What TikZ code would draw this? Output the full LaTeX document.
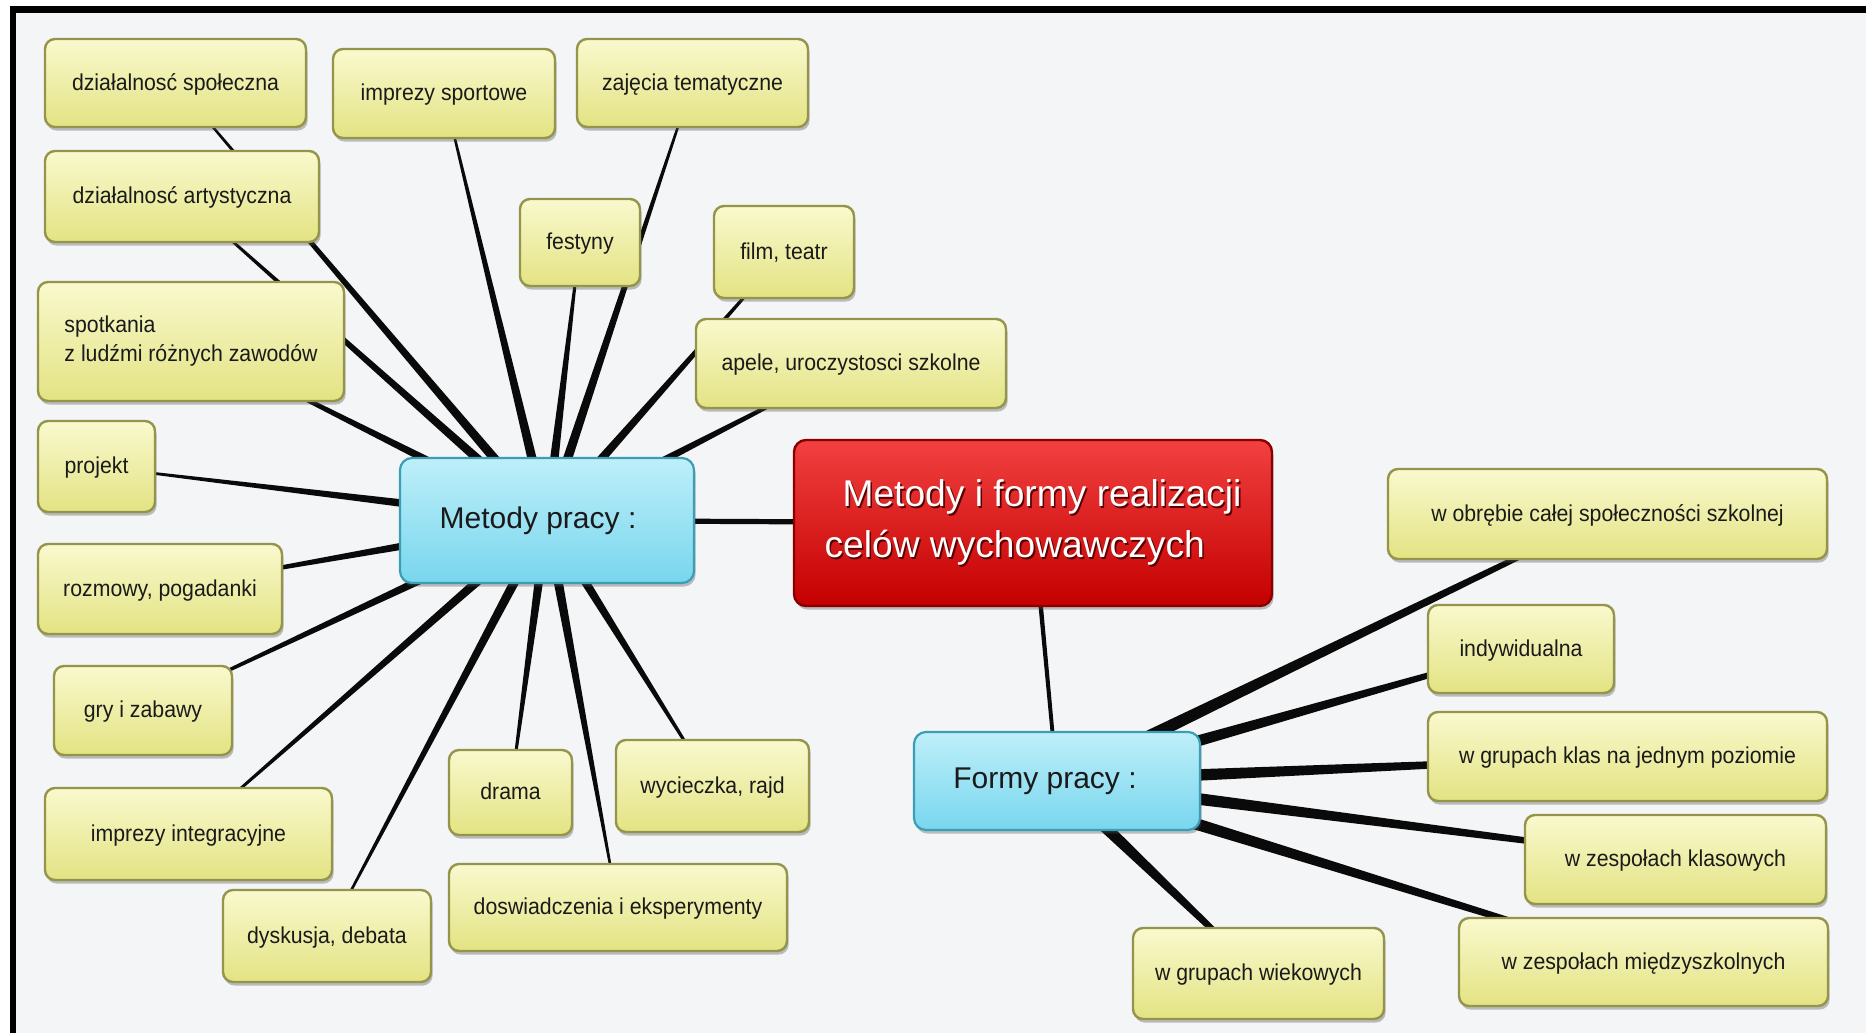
\documentclass[tikz,border=0pt]{standalone}
\usepackage{fontspec}
\setmainfont{Liberation Sans}
\newfontfamily\labfont[FakeStretch=0.925]{Liberation Sans}
\usetikzlibrary{calc,shadows}
\definecolor{bgc}{HTML}{F3F5F7}
\definecolor{txt}{HTML}{1A1A1A}
\definecolor{yTop}{HTML}{F9F9CE}
\definecolor{yBot}{HTML}{E3E383}
\definecolor{yBorder}{HTML}{94944A}
\definecolor{bTop}{HTML}{BEEFF9}
\definecolor{bBot}{HTML}{78D6EE}
\definecolor{bBorder}{HTML}{3C9EB4}
\definecolor{rTop}{HTML}{F24040}
\definecolor{rMid}{HTML}{E01010}
\definecolor{rBot}{HTML}{C40000}
\definecolor{rBorder}{HTML}{8A0000}
\definecolor{rShadow}{HTML}{5A0000}
\definecolor{lineC}{HTML}{0A0A0A}
\pgfdeclarelayer{back}
\pgfdeclarelayer{lines}
\pgfsetlayers{back,lines,main}
\newcommand\tapline[4]{%
  \fill[lineC] let \p1=(#1.center), \p2=(#2.center), \n1={atan2(\y2-\y1,\x2-\x1)} in
   ($(\p1)+(\n1+90:#3)$) -- ($(\p2)+(\n1+90:#4)$) -- ($(\p2)+(\n1-90:#4)$) -- ($(\p1)+(\n1-90:#3)$) -- cycle;}
\newcommand\shtxt[1]{\leavevmode\rlap{\kern0.8pt\raisebox{-1pt}{\color{rShadow}#1}}#1}
\begin{document}
\begin{tikzpicture}[x=0.5pt,y=-0.5pt,
  sz/.style 2 args={minimum width=#1*0.5pt, minimum height=#2*0.5pt},
  shad/.style={drop shadow={shadow xshift=0.8pt, shadow yshift=-1.8pt, opacity=0.35, fill=black!70}},
  lbl/.style={shad, rounded corners=5pt, draw=yBorder, line width=1.2pt, top color=yTop, bottom color=yBot,
    font=\labfont\fontsize{11.5}{14.5}\selectfont, text=txt, inner sep=0pt, text height=8.2pt, text depth=1.2pt},
  hub/.style={shad, rounded corners=6pt, draw=bBorder, line width=1.1pt, top color=bTop, bottom color=bBot,
    font=\fontsize{15}{18}\selectfont, text=txt, inner sep=0pt},
  root/.style={shad, rounded corners=6pt, draw=rBorder, line width=1.2pt, top color=rTop, middle color=rMid, bottom color=rBot,
    font=\fontsize{18.6}{25.5}\selectfont, text=white, inner sep=0pt, align=left}
]
\useasboundingbox (0,0) rectangle (1866,1033);
\begin{pgfonlayer}{back}
  \fill[white] (0,0) rectangle (1866,1033);
  \fill[bgc] (16,13) rectangle (1866,1033);
  \fill[black] (10,6) rectangle (1866,13);
  \fill[black] (10,6) rectangle (16,1033);
\end{pgfonlayer}

% central nodes
\node[root, sz={478}{166}] (R) at (1033,523) {\hspace*{9pt}\shtxt{Metody i formy realizacji}\\\shtxt{celów wychowawczych}};
\node[hub, sz={294}{125}] (M) at (547,520.5) {Metody pracy :\hspace*{9pt}};
\node[hub, sz={286}{98}] (F) at (1057,781) {Formy pracy :\hspace*{12pt}};

% Metody children
\node[lbl, sz={261}{88}] (spol) at (175.5,83) {działalnosć społeczna};
\node[lbl, sz={222}{89}] (sport) at (444,93.5) {imprezy sportowe};
\node[lbl, sz={231}{88}] (zaj) at (692.5,83) {zajęcia tematyczne};
\node[lbl, sz={274}{91}] (art) at (182,196.5) {działalnosć artystyczna};
\node[lbl, sz={120}{87}] (fest) at (580,242.5) {festyny};
\node[lbl, sz={140}{92}] (film) at (784,252) {film, teatr};
\node[lbl, sz={306}{119}, align=left, text height=, text depth=] (spot) at (191,341.5) {spotkania\\z ludźmi różnych zawodów};
\node[lbl, sz={310}{89}] (apele) at (851,363.5) {apele, uroczystosci szkolne};
\node[lbl, sz={117}{91}] (proj) at (96.5,466.5) {projekt};
\node[lbl, sz={244}{90}] (rozm) at (160,589) {rozmowy, pogadanki};
\node[lbl, sz={178}{89}] (gry) at (143,710.5) {gry i zabawy};
\node[lbl, sz={287}{92}] (integ) at (188.5,834) {imprezy integracyjne};
\node[lbl, sz={208}{92}] (dysk) at (327,936) {dyskusja, debata};
\node[lbl, sz={123}{85}] (drama) at (510.5,792.5) {drama};
\node[lbl, sz={193}{92}] (wyc) at (712.5,786) {wycieczka, rajd};
\node[lbl, sz={338}{87}] (dosw) at (618,907.5) {doswiadczenia i eksperymenty};

% Formy children
\node[lbl, sz={439}{90}] (obr) at (1607.5,514) {w obrębie całej społeczności szkolnej};
\node[lbl, sz={186}{88}] (ind) at (1521,649) {indywidualna};
\node[lbl, sz={399}{89}] (klas) at (1627.5,756.5) {w grupach klas na jednym poziomie};
\node[lbl, sz={301}{89}] (zesp) at (1675.5,859.5) {w zespołach klasowych};
\node[lbl, sz={369}{88}] (mdz) at (1643.5,962) {w zespołach międzyszkolnych};
\node[lbl, sz={251}{91}] (wiek) at (1258.5,973.5) {w grupach wiekowych};

% connectors
\begin{pgfonlayer}{lines}
  \tapline{R}{M}{1.3pt}{1.3pt}
  \tapline{R}{F}{1.2pt}{0.9pt}
  \foreach \k in {spol,sport,zaj,art,fest,film,spot,apele,proj,rozm,gry,integ,dysk,drama,wyc,dosw}
    {\tapline{M}{\k}{2.6pt}{0.4pt}}
  \foreach \k in {obr,ind,klas,zesp,mdz,wiek}
    {\tapline{F}{\k}{3.5pt}{1pt}}
\end{pgfonlayer}
\end{tikzpicture}
\end{document}
